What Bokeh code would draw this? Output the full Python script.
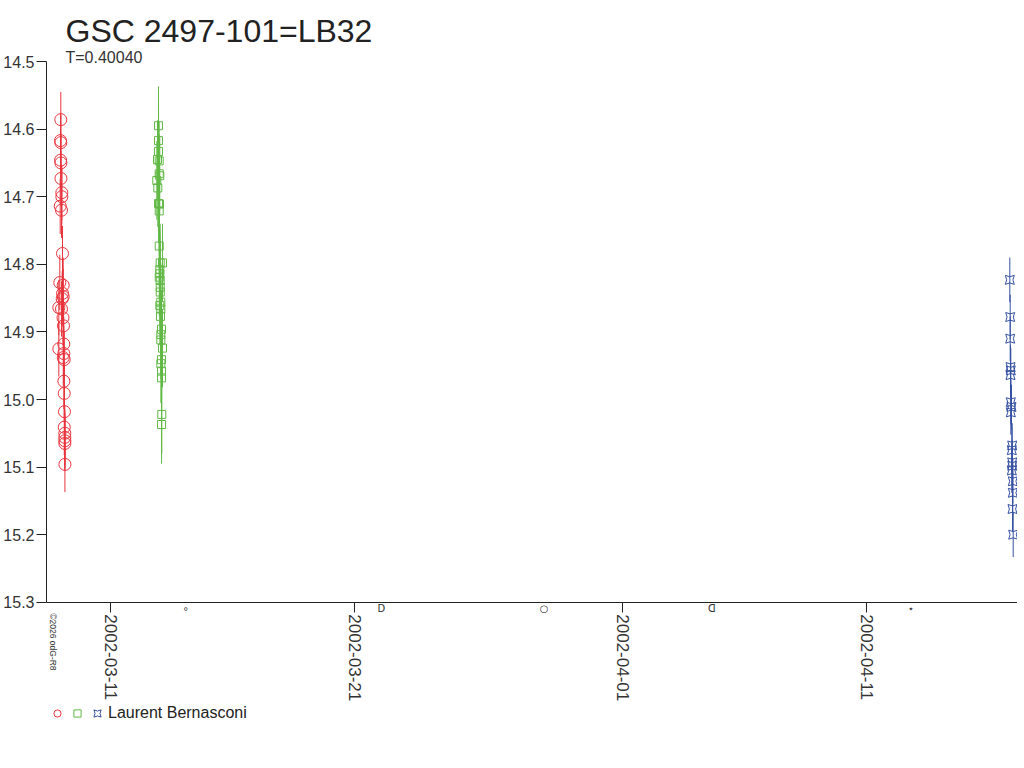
import math
import pandas as pd
from bokeh.plotting import figure
from bokeh.models import (FixedTicker, DatetimeTickFormatter, PrintfTickFormatter, Title,
                          Legend, LegendItem, Range1d, DatetimeAxis)
from bokeh.core.properties import value
from bokeh.embed import file_html
from bokeh.resources import INLINE

# ---------------- data ----------------
red_time = ["2002-03-08 23:07", "2002-03-08 22:50", "2002-03-08 23:10", "2002-03-08 22:55",
            "2002-03-08 23:12", "2002-03-08 23:15", "2002-03-09 00:06", "2002-03-09 00:08",
            "2002-03-08 22:32", "2002-03-08 23:48", "2002-03-09 00:47", "2002-03-08 22:08",
            "2002-03-09 01:28", "2002-03-09 00:50", "2002-03-09 01:30", "2002-03-09 00:29",
            "2002-03-08 21:09", "2002-03-08 23:48", "2002-03-09 01:16", "2002-03-09 01:46",
            "2002-03-09 02:04", "2002-03-08 21:10", "2002-03-09 02:06", "2002-03-09 01:32",
            "2002-03-09 02:27", "2002-03-09 02:08", "2002-03-09 02:30", "2002-03-09 02:45",
            "2002-03-09 02:32", "2002-03-09 03:03", "2002-03-09 03:05", "2002-03-09 03:06",
            "2002-03-09 03:07", "2002-03-09 03:10"]
red_mag = [14.586, 14.617, 14.620, 14.646, 14.650, 14.673, 14.694, 14.700,
           14.714, 14.720, 14.784, 14.827, 14.831, 14.843, 14.848, 14.851,
           14.864, 14.866, 14.879, 14.891, 14.918, 14.925, 14.932, 14.938,
           14.941, 14.973, 14.991, 15.018, 15.041, 15.050, 15.056, 15.061,
           15.065, 15.096]
red_err = 0.041

green_time = ["2002-03-12 23:13", "2002-03-12 23:14", "2002-03-12 23:15", "2002-03-12 22:14",
              "2002-03-12 23:54", "2002-03-12 23:55", "2002-03-13 00:29", "2002-03-12 21:33",
              "2002-03-12 22:32", "2002-03-12 23:16", "2002-03-13 00:12", "2002-03-12 23:56",
              "2002-03-12 23:57", "2002-03-13 00:53", "2002-03-13 03:08", "2002-03-13 00:30",
              "2002-03-13 00:31", "2002-03-12 23:58", "2002-03-13 00:54", "2002-03-13 00:55",
              "2002-03-13 00:56", "2002-03-13 01:28", "2002-03-13 00:32", "2002-03-13 01:29",
              "2002-03-13 01:10", "2002-03-13 02:09", "2002-03-13 01:30", "2002-03-13 01:31",
              "2002-03-13 03:08", "2002-03-13 02:10", "2002-03-13 01:32", "2002-03-13 02:11",
              "2002-03-13 02:12", "2002-03-13 02:27", "2002-03-13 02:13"]
green_mag = [14.595, 14.617, 14.633, 14.645, 14.647, 14.666, 14.669, 14.676,
             14.687, 14.710, 14.711, 14.721, 14.773, 14.798, 14.798, 14.808,
             14.814, 14.819, 14.824, 14.834, 14.841, 14.856, 14.861, 14.866,
             14.877, 14.896, 14.904, 14.912, 14.924, 14.941, 14.947, 14.958,
             14.968, 15.022, 15.037]
green_err = 0.058

blue_time = ["2002-04-16 20:34", "2002-04-16 20:57", "2002-04-16 20:58", "2002-04-16 21:14",
             "2002-04-16 21:33", "2002-04-16 21:15", "2002-04-16 21:34", "2002-04-16 22:13",
             "2002-04-16 21:35", "2002-04-16 22:55", "2002-04-16 22:32", "2002-04-16 22:56",
             "2002-04-16 22:57", "2002-04-16 22:33", "2002-04-16 23:31", "2002-04-16 23:32",
             "2002-04-16 23:12", "2002-04-16 23:54"]
blue_mag = [14.823, 14.878, 14.910, 14.952, 14.957, 14.964, 15.004, 15.011,
            15.019, 15.068, 15.075, 15.093, 15.098, 15.105, 15.121, 15.138,
            15.162, 15.200]
blue_err = 0.033

x_ticks = ["2002-03-11", "2002-03-21", "2002-04-01", "2002-04-11"]
y_ticks = [14.5, 14.6, 14.7, 14.8, 14.9, 15.0, 15.1, 15.2, 15.3]
y_top, y_bottom = 14.5, 15.3

moon_dates = ["2002-03-14 02:03", "2002-03-22 02:28", "2002-03-28 18:25",
              "2002-04-04 15:29", "2002-04-12 19:21"]
moon_symbols = ["∘", "D", "○", "ᗡ", "⋆"]

title_text = "GSC 2497-101=LB32"
subtitle_text = "T=0.40040"
observer = "Laurent Bernasconi"
copyright_text = "©2026 odG-R8"

FONT = "Liberation Sans"
RED, GREEN, BLUE = "#e8343c", "#62b946", "#3651a3"

# layout (pixels)
LEFT = 45
FRAME_W, FRAME_H = 1016 - LEFT, 698
TOP = 61
PX_PER_DAY = 24.4
PX_PER_MAG = 676.0
TICK0_PX = 109 - LEFT   # 2002-03-11 from the frame's left edge


def ms(s):
    return pd.Timestamp(s).value / 1e6


DAY_MS = 86400000.0
x0 = ms(x_ticks[0]) - TICK0_PX / PX_PER_DAY * DAY_MS
x1 = x0 + FRAME_W / PX_PER_DAY * DAY_MS
y_low = y_top + FRAME_H / PX_PER_MAG

p = figure(frame_width=FRAME_W, frame_height=FRAME_H,
           output_backend="svg", toolbar_location=None,
           x_axis_location=None,
           x_range=Range1d(x0, x1), y_range=Range1d(start=y_low, end=y_top),
           min_border_left=LEFT, min_border_right=0, min_border_top=TOP, min_border_bottom=0)

p.outline_line_color = None
p.background_fill_color = "white"
p.border_fill_color = "white"

series = [(red_time, red_mag, red_err, RED, "circle", 12),
          (green_time, green_mag, green_err, GREEN, "square", 8),
          (blue_time, blue_mag, blue_err, BLUE, "square_pin", 9)]
scatter_renderers = []
for t, m, e, col, mk, sz in series:
    tt = pd.to_datetime(t)
    lo = [v - e for v in m]
    hi = [v + e for v in m]
    p.segment(x0=tt, y0=lo, x1=tt, y1=hi, line_color=col, line_width=1)
    r = p.scatter(x=tt, y=m, marker=mk, size=sz, fill_color=None,
                  line_color=col, line_width=1)
    scatter_renderers.append(r)

# time axis standing at magnitude 15.3
fmt = "%Y-%m-%d"
xaxis = DatetimeAxis(fixed_location=y_bottom,
                     ticker=FixedTicker(ticks=[ms(d) for d in x_ticks]),
                     formatter=DatetimeTickFormatter(milliseconds=fmt, seconds=fmt, minsec=fmt,
                                                     minutes=fmt, hourmin=fmt, hours=fmt,
                                                     days=fmt, months=fmt, years=fmt),
                     major_label_orientation=-math.pi / 2)
p.add_layout(xaxis, "below")

yaxis = p.yaxis[0]
yaxis.bounds = (y_top, y_bottom)
yaxis.ticker = FixedTicker(ticks=y_ticks)
yaxis.formatter = PrintfTickFormatter(format="%.1f")

for ax, fs in ((xaxis, "17px"), (yaxis, "16px")):
    ax.axis_line_color = "#222222"
    ax.major_tick_line_color = "#222222"
    ax.major_tick_out = 10
    ax.major_tick_in = 0
    ax.minor_tick_line_color = None
    ax.major_label_text_font = FONT
    ax.major_label_text_font_size = fs
    ax.major_label_text_color = "#333333"
    ax.major_label_standoff = 2
for g in p.grid:
    g.visible = False

# moon phases under the time axis
p.text(x=pd.to_datetime(moon_dates), y=[y_bottom] * len(moon_dates), text=moon_symbols,
       y_offset=6, text_align="center", text_baseline="middle",
       text_font=value("DejaVu Sans"), text_font_size="10px", text_color="#333333")

# copyright, small and vertical, at the left under the magnitude axis
p.text(x=[x0], y=[y_bottom], text=[copyright_text], x_offset=6, y_offset=11,
       angle=-math.pi / 2, text_align="left", text_baseline="middle",
       text_font=value(FONT), text_font_size="8.5px", text_color="#333333")

# titles (later additions sit closer to the frame)
p.title.text = title_text
p.title.text_font = FONT
p.title.text_font_size = "32px"
p.title.text_font_style = "normal"
p.title.text_color = "#222222"
p.title.offset = 64 - LEFT
p.title.standoff = 6
sub = Title(text=subtitle_text, text_font=FONT, text_font_size="16px",
            text_font_style="normal", text_color="#333333", offset=64 - LEFT, standoff=-9)
p.add_layout(sub, "above")

# legend
legend = Legend(items=[LegendItem(label="", renderers=[scatter_renderers[0]]),
                       LegendItem(label="", renderers=[scatter_renderers[1]]),
                       LegendItem(label=observer, renderers=[scatter_renderers[2]])],
                orientation="horizontal", location=(2, TOP + FRAME_H - 723),
                border_line_color=None, background_fill_alpha=0,
                glyph_width=18, glyph_height=20, label_standoff=2, spacing=0,
                label_width=0, label_height=0,
                padding=0, margin=0, label_text_font=FONT, label_text_font_size="16px",
                label_text_color="#222222")
p.add_layout(legend, "center")

open("out.html", "w").write(file_html(p, INLINE))
